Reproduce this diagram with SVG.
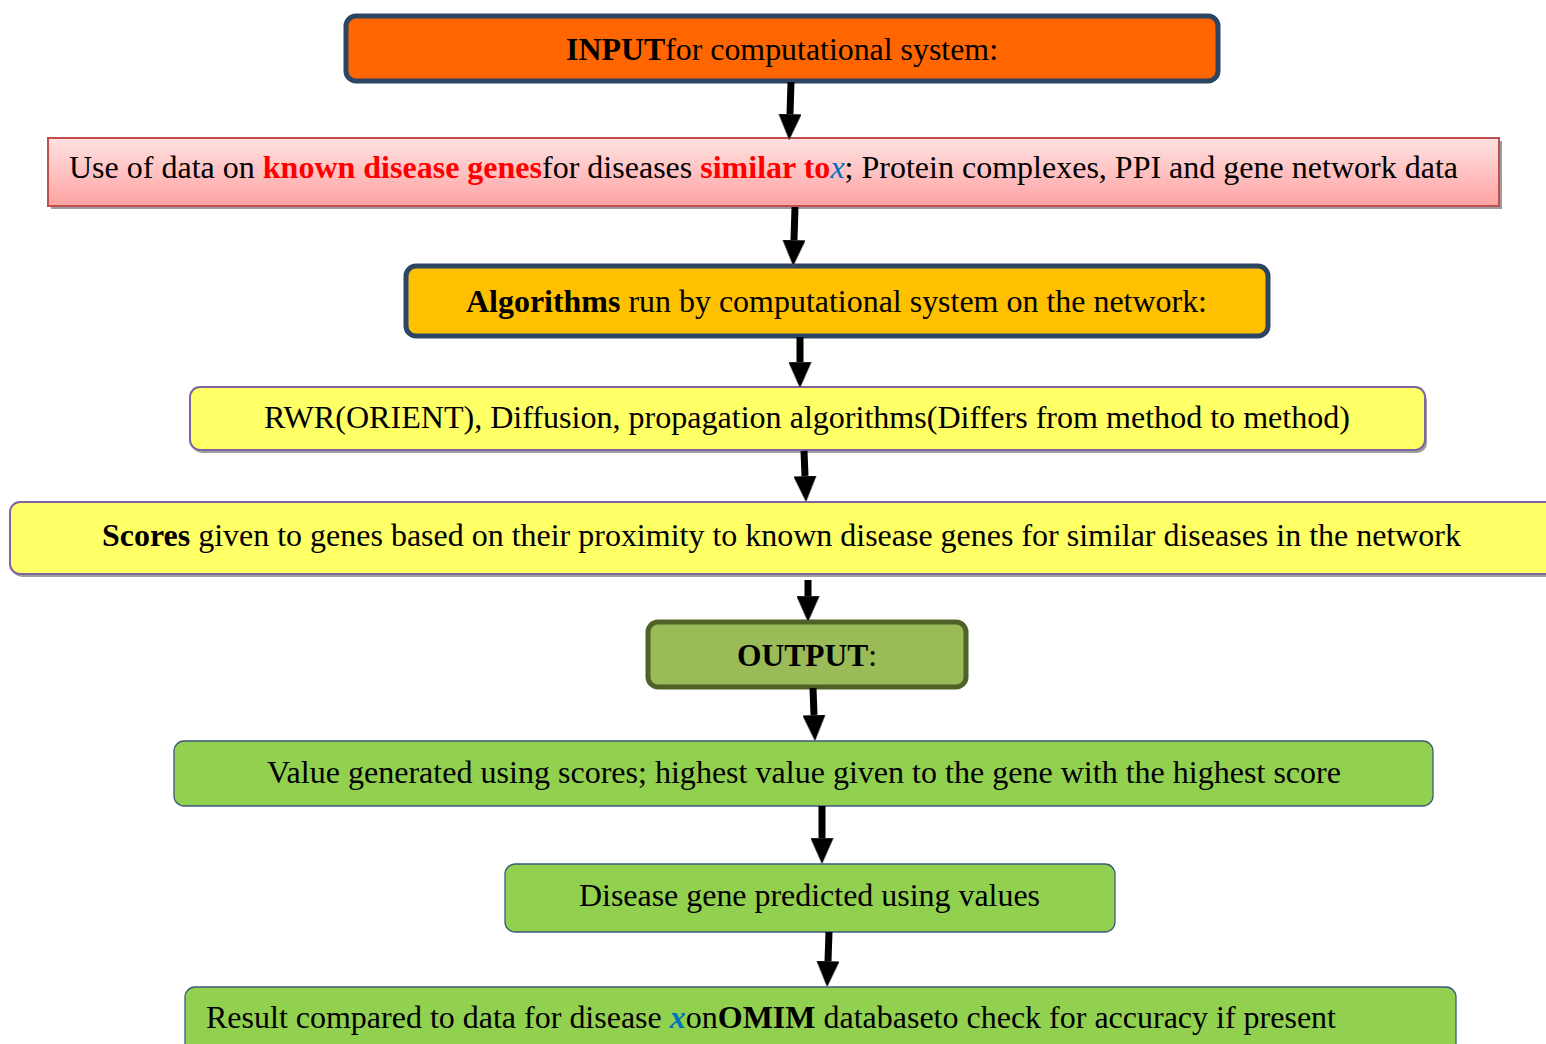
<svg xmlns="http://www.w3.org/2000/svg" width="1546" height="1044" viewBox="0 0 1546 1044">
<style>
text{font-family:"Liberation Serif","Times New Roman",serif;font-size:32px;fill:#000}
.b{font-weight:bold}
.red{fill:#FF0000;font-weight:bold}
.xb{fill:#0070C0;font-style:italic}
.navy{stroke:#2C4563;stroke-width:5}
.shadow{fill:#9E9E9E}
.yel{fill:#FFFF66;stroke:#8064A2;stroke-width:2}
.grn{fill:#92D050;stroke:#3B5A7A;stroke-width:1.3}
.conn{stroke:#000;stroke-width:7;fill:none;marker-end:url(#ah)}
</style>
<defs>
<linearGradient id="pink" x1="0" y1="0" x2="0" y2="1">
<stop offset="0" stop-color="#FFE2E2"/>
<stop offset="1" stop-color="#FFA2A2"/>
</linearGradient>
<marker id="ah" markerUnits="userSpaceOnUse" markerWidth="27" markerHeight="23" refX="0" refY="11.5" orient="auto">
<path d="M0,0 L26,11.5 L0,23 Z" fill="#000" stroke="#777" stroke-width="0.6"/>
</marker>
</defs>
<rect width="1546" height="1044" fill="#fff"/>

<g id="n1">
<rect x="346" y="16" width="872" height="65" rx="10" fill="#FF6600" class="navy"/>
<text x="566" y="60" font-size="34" textLength="432" lengthAdjust="spacingAndGlyphs"><tspan class="b">INPUT</tspan>for computational system:</text>
</g>

<g id="n2">
<rect x="51" y="141" width="1451" height="68" class="shadow"/>
<rect x="48" y="138" width="1451" height="68" fill="url(#pink)" stroke="#C0504D" stroke-width="2"/>
<text x="69" y="178" textLength="1389" lengthAdjust="spacingAndGlyphs">Use of data on <tspan class="red">known disease genes</tspan>for diseases <tspan class="red">similar to</tspan><tspan class="xb">x</tspan>; Protein complexes, PPI and gene network data</text>
</g>

<g id="n3">
<rect x="406" y="266" width="862" height="70" rx="10" fill="#FFC000" class="navy"/>
<text x="466" y="312" textLength="741" lengthAdjust="spacingAndGlyphs"><tspan class="b">Algorithms</tspan> run by computational system on the network:</text>
</g>

<g id="n4">
<rect x="192" y="390" width="1235" height="63" rx="10" class="shadow"/>
<rect x="190" y="387" width="1235" height="63" rx="10" class="yel"/>
<text x="264" y="428" textLength="1086" lengthAdjust="spacingAndGlyphs">RWR(ORIENT), Diffusion, propagation algorithms(Differs from method to method)</text>
</g>

<g id="n5">
<rect x="12" y="505" width="1560" height="72" rx="10" class="shadow"/>
<rect x="10" y="502" width="1560" height="72" rx="10" class="yel"/>
<text x="102" y="546" textLength="1359" lengthAdjust="spacingAndGlyphs"><tspan class="b">Scores</tspan> given to genes based on their proximity to known disease genes for similar diseases in the network</text>
</g>

<g id="n6">
<rect x="648" y="622" width="318" height="65" rx="10" fill="#9BBB59" stroke="#4F6228" stroke-width="5"/>
<text x="737" y="666" font-size="33" textLength="140" lengthAdjust="spacingAndGlyphs"><tspan class="b">OUTPUT</tspan>:</text>
</g>

<g id="n7">
<rect x="174" y="741" width="1259" height="65" rx="10" class="grn"/>
<text x="267" y="783" textLength="1074" lengthAdjust="spacingAndGlyphs">Value generated using scores; highest value given to the gene with the highest score</text>
</g>

<g id="n8">
<rect x="505" y="864" width="610" height="68" rx="10" class="grn"/>
<text x="579" y="906" textLength="461" lengthAdjust="spacingAndGlyphs">Disease gene predicted using values</text>
</g>

<g id="n9">
<rect x="185" y="987" width="1271" height="80" rx="10" class="grn"/>
<text x="206" y="1028" textLength="1130" lengthAdjust="spacingAndGlyphs">Result compared to data for disease <tspan class="xb b">x</tspan>on<tspan class="b">OMIM</tspan> databaseto check for accuracy if present</text>
</g>

<g id="connectors">
<line class="conn" x1="791" y1="82" x2="790" y2="114"/>
<line class="conn" x1="795" y1="207" x2="794" y2="240"/>
<line class="conn" x1="800" y1="337" x2="800" y2="362"/>
<line class="conn" x1="804" y1="451" x2="805" y2="476"/>
<line class="conn" x1="808" y1="580" x2="808" y2="596"/>
<line class="conn" x1="813" y1="688" x2="814" y2="715"/>
<line class="conn" x1="822" y1="806" x2="822" y2="838"/>
<line class="conn" x1="829" y1="932" x2="828" y2="961"/>
</g>
</svg>
